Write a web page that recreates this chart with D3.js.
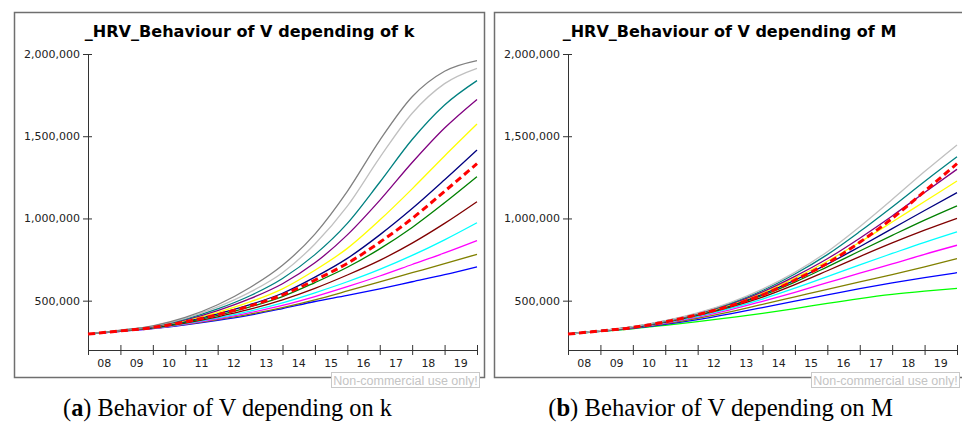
<!DOCTYPE html>
<html><head><meta charset="utf-8">
<script src="https://cdn.jsdelivr.net/npm/d3@7"></script>
<style>body{margin:0;background:#fff}</style>
</head><body>
<svg id="c" width="962" height="426"></svg>
<script>
// ---- data ----
const years = [2008,2009,2010,2011,2012,2013,2014,2015,2016,2017,2018,2019,2020];
const yearLabels = ["08","09","10","11","12","13","14","15","16","17","18","19"];
const yTicks = [500000,1000000,1500000,2000000];
const titles = ["_HRV_Behaviour of V depending of k","_HRV_Behaviour of V depending of M"];
const captionLetters = ["a","b"];
const captionTexts = [" Behavior of V depending on k"," Behavior of V depending on M"];

// panel (a): V depending on k
const kBlue    = [297000,313000,330000,353000,380000,412000,452000,495000,532000,572000,615000,658000,706000];
const kOlive   = [297000,314000,331000,356000,385000,418000,458000,505000,559000,615000,670000,725000,782000];
const kMagenta = [297000,314000,332000,358000,390000,427000,471000,525000,585000,650000,720000,790000,865000];
const kCyan    = [297000,315000,333000,361000,396000,437000,487000,548000,615000,690000,775000,870000,974000];
const kMaroon  = [297000,315000,334000,364000,402000,448000,505000,575000,656000,745000,850000,970000,1102000];
const kGreen   = [297000,316000,336000,368000,410000,462000,525000,610000,703000,815000,945000,1095000,1254000];
const kNavy    = [297000,316000,338000,374000,420000,476000,545000,643000,757000,900000,1060000,1235000,1416000];
const kYellow  = [297000,317000,339000,378000,429000,492000,572000,685000,818000,990000,1180000,1380000,1574000];
const kPurple  = [297000,317000,341000,383000,440000,512000,603000,730000,900000,1110000,1340000,1550000,1724000];
const kTeal    = [297000,318000,343000,388000,450000,530000,635000,780000,970000,1220000,1480000,1690000,1838000];
const kSilver  = [297000,319000,345000,393000,462000,552000,670000,845000,1075000,1370000,1640000,1820000,1913000];
const kGray    = [297000,320000,347000,398000,475000,580000,715000,905000,1165000,1475000,1740000,1895000,1960000];
const baseRed  = [297000,316000,337000,371000,415000,468000,535000,625000,727000,855000,1000000,1165000,1333000];

// panel (b): V depending on M
const mLime    = [297000,313000,329000,350000,372000,397000,423000,452000,484000,513000,538000,558000,575000];
const mBlue    = [297000,314000,332000,356000,385000,420000,458000,497000,535000,573000,608000,640000,670000];
const mOlive   = [297000,315000,334000,360000,393000,432000,477000,523000,569000,614000,658000,705000,755000];
const mMagenta = [297000,316000,336000,364000,400000,444000,496000,551000,609000,667000,723000,782000,837000];
const mCyan    = [297000,316000,337000,367000,405000,453000,510000,576000,646000,718000,787000,855000,919000];
const mMaroon  = [297000,317000,338000,370000,410000,461000,522000,598000,682000,768000,851000,929000,1001000];
const mGreen   = [297000,317000,339000,372000,414000,467000,532000,613000,706000,802000,897000,990000,1077000];
const mNavy    = [297000,317000,339000,373000,416000,471000,540000,625000,722000,828000,938000,1048000,1157000];
const mYellow  = [297000,317000,340000,374000,418000,475000,547000,637000,740000,855000,978000,1103000,1228000];
const mPurple  = [297000,317000,340000,375000,420000,479000,554000,648000,755000,880000,1015000,1158000,1299000];
const mTeal    = [297000,318000,341000,377000,423000,484000,562000,662000,780000,920000,1070000,1225000,1375000];
const mSilver  = [297000,318000,342000,378000,425000,488000,570000,672000,798000,950000,1115000,1285000,1447000];

const panelA = [
  {v:kBlue,c:"#0000ff"},{v:kOlive,c:"#808000"},{v:kMagenta,c:"#ff00ff"},{v:kCyan,c:"#00ffff"},
  {v:kMaroon,c:"#800000"},{v:kGreen,c:"#008000"},{v:kNavy,c:"#000080"},{v:kYellow,c:"#ffff00"},
  {v:kPurple,c:"#800080"},{v:kTeal,c:"#008080"},{v:kSilver,c:"#c0c0c0"},{v:kGray,c:"#808080"},
  {v:baseRed,c:"#ff0000",dash:true}
];
const panelB = [
  {v:mLime,c:"#00ff00"},{v:mBlue,c:"#0000ff"},{v:mOlive,c:"#808000"},{v:mMagenta,c:"#ff00ff"},
  {v:mCyan,c:"#00ffff"},{v:mMaroon,c:"#800000"},{v:mGreen,c:"#008000"},{v:mNavy,c:"#000080"},
  {v:mYellow,c:"#ffff00"},{v:mPurple,c:"#800080"},{v:mTeal,c:"#008080"},{v:mSilver,c:"#c0c0c0"},
  {v:baseRed,c:"#ff0000",dash:true}
];

// ---- drawing ----
const svg = d3.select("#c");
svg.append("rect").attr("width",962).attr("height",426).attr("fill","#fff");
const fmt = d3.format(",");

function fitWidth(sel, target) {
  const fs = parseFloat(sel.attr("font-size"));
  const w = sel.node().getComputedTextLength();
  if (w > 0) sel.attr("font-size", fs * target / w);
}

function panel(ox, title, series, letter, capText, capX) {
  const g = svg.append("g").attr("transform",`translate(${ox},0)`);
  g.append("rect").attr("x",14.5).attr("y",12.5).attr("width",470).attr("height",365)
    .attr("fill","none").attr("stroke","#6f6f6f").attr("stroke-width",1.5);
  const tt = g.append("text").attr("x",249.5).attr("y",37).attr("text-anchor","middle")
    .attr("font-family","DejaVu Sans").attr("font-weight","bold").attr("font-size",15.5)
    .attr("fill","#000").text(title);
  fitWidth(tt, ox === 0 ? 330 : 334);

  const x = d3.scaleLinear().domain([years[0], years[years.length-1]]).range([88,477]);
  const y = d3.scaleLinear().domain([200000,2000000]).range([350,54]);

  // y axis
  const ya = g.append("g").attr("transform","translate(88,0)")
    .call(d3.axisLeft(y).tickValues(yTicks).tickFormat(fmt).tickSize(4).tickSizeOuter(0));
  ya.select(".domain").attr("stroke","#333");
  ya.selectAll(".tick line").attr("x2",-5).attr("x1",4).attr("stroke","#333");
  ya.selectAll(".tick text").attr("x",-8).attr("font-family","DejaVu Sans").attr("font-size",11).attr("fill","#222");
  // x axis
  const xa = g.append("g").attr("transform","translate(0,350)")
    .call(d3.axisBottom(x).tickValues(years).tickFormat("").tickSize(4).tickSizeOuter(0));
  xa.select(".domain").attr("stroke","#333");
  xa.selectAll(".tick line").attr("y1",-5).attr("y2",5).attr("stroke","#333");
  g.append("g").selectAll("text").data(yearLabels).join("text")
    .attr("x",(d,i)=>x(years[i]+0.5)).attr("y",367).attr("text-anchor","middle")
    .attr("font-family","DejaVu Sans").attr("font-size",11).attr("fill","#222").text(d=>d);

  const line = d3.line().x((d,i)=>x(years[i])).y(d=>y(d)).curve(d3.curveMonotoneX);
  g.append("g").selectAll("path").data(series).join("path")
    .attr("d",d=>line(d.v)).attr("fill","none").attr("stroke",d=>d.c)
    .attr("stroke-width",d=>d.dash?3:1.3)
    .attr("stroke-dasharray",d=>d.dash?"7,4":null);

  // watermark
  g.append("rect").attr("x",331.5).attr("y",372.5).attr("width",148).attr("height",15)
    .attr("fill","#fff").attr("stroke","#c8c8c8");
  g.append("text").attr("x",405.5).attr("y",384.5).attr("text-anchor","middle")
    .attr("font-family","Liberation Sans").attr("font-size",12.5).attr("fill","#c4c4c4")
    .text("Non-commercial use only!");

  // caption
  const t = svg.append("text").attr("x",capX).attr("y",416).attr("text-anchor","middle")
    .attr("font-family","Liberation Serif").attr("font-size",22).attr("fill","#000");
  t.append("tspan").text("(");
  t.append("tspan").attr("font-weight","bold").text(letter);
  t.append("tspan").text(")" + capText);
  fitWidth(t, ox === 0 ? 329 : 345);
}

panel(0, titles[0], panelA, captionLetters[0], captionTexts[0], 227.5);
panel(480, titles[1], panelB, captionLetters[1], captionTexts[1], 720.5);
</script>
</body></html>
